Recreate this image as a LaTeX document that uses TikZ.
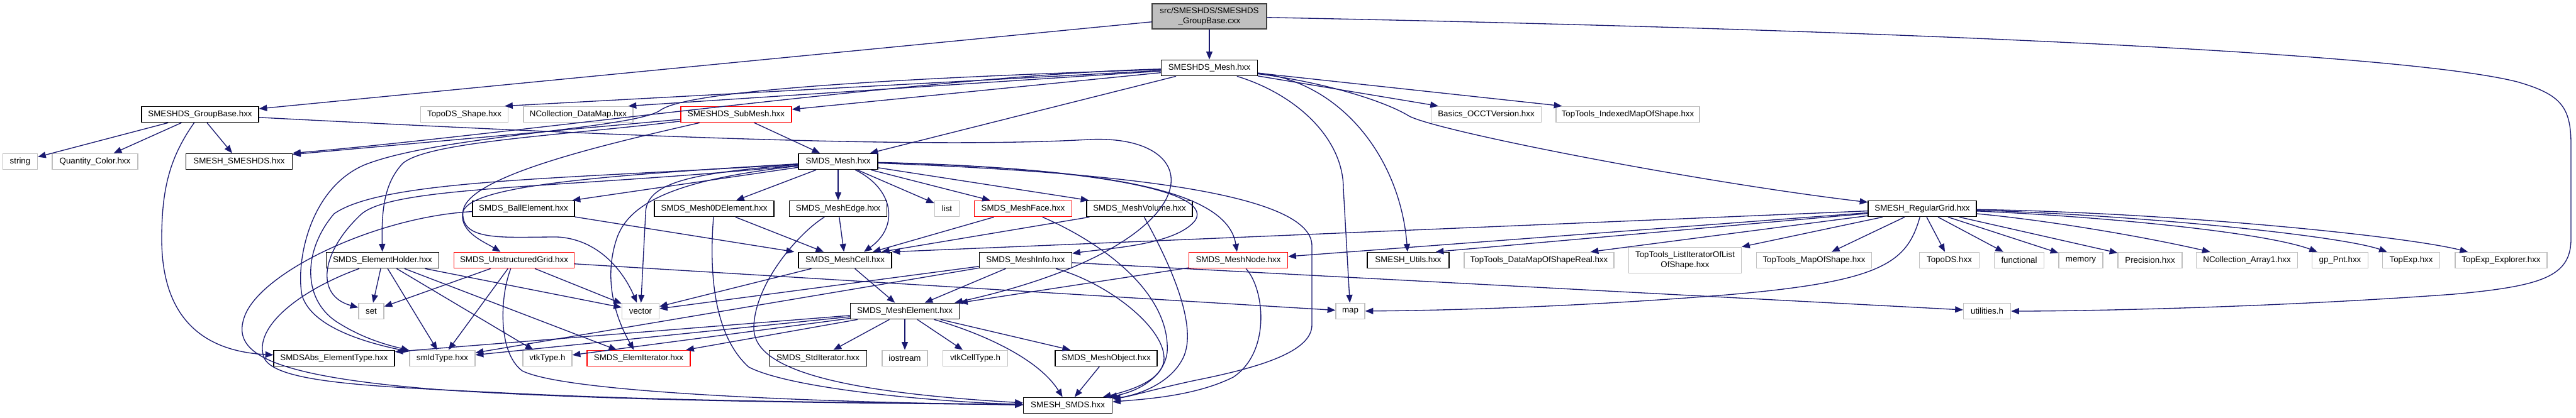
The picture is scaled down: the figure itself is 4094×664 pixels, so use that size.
\documentclass[tikz,border=0pt]{standalone}
\usepackage{fontspec}
\setmainfont{Liberation Sans}
\usetikzlibrary{arrows.meta,calc}
\definecolor{edgeblue}{HTML}{191970}
\definecolor{grayb}{HTML}{BFBFBF}
\definecolor{rootborder}{HTML}{404040}
\tikzset{
  nb/.style={draw=black, fill=white, line width=1pt, inner sep=0pt, minimum height=19pt,
             font=\fontsize{10}{12}\selectfont, align=center, text=black},
  ng/.style={nb, draw=grayb},
  nr/.style={nb, draw=red},
  wd/.style={minimum width=#1*0.75pt},
  ed/.style={draw=edgeblue, line width=1pt, -{Triangle[length=9.5pt,width=7.5pt]}},
}
\begin{document}
\begin{tikzpicture}[x=0.75pt,y=-0.75pt]
\useasboundingbox (0,0) rectangle (4094,664);
% ---- nodes ----
\node[nb,wd=182,minimum height=30pt,fill=grayb,draw=rootborder] (root) at (1922,26) {src/SMESHDS/SMESHDS\\\_GroupBase.cxx};
\node[nb,wd=153] (smeshdsmesh) at (1922,108) {SMESHDS\_Mesh.hxx};
\node[nb,wd=186] (groupbase) at (318,182) {SMESHDS\_GroupBase.hxx};
\node[ng,wd=139] (topodsshape) at (738,182) {TopoDS\_Shape.hxx};
\node[ng,wd=174] (ncolldatamap) at (919,182) {NCollection\_DataMap.hxx};
\node[nr,wd=176] (submesh) at (1170,182) {SMESHDS\_SubMesh.hxx};
\node[ng,wd=175] (basics) at (2362,182) {Basics\_OCCTVersion.hxx};
\node[ng,wd=228] (toptoolsidx) at (2587,182) {TopTools\_IndexedMapOfShape.hxx};
\node[ng,wd=55] (string) at (32,257) {string};
\node[ng,wd=136] (quantity) at (151,257) {Quantity\_Color.hxx};
\node[nb,wd=169] (smeshsmeshds) at (380,257) {SMESH\_SMESHDS.hxx};
\node[nb,wd=126] (smdsmesh) at (1332,257) {SMDS\_Mesh.hxx};
\node[nb,wd=162] (ball) at (832,332) {SMDS\_BallElement.hxx};
\node[nb,wd=190] (mesh0d) at (1135,332) {SMDS\_Mesh0DElement.hxx};
\node[nb,wd=155] (meshedge) at (1332,332) {SMDS\_MeshEdge.hxx};
\node[ng,wd=39] (list) at (1505,332) {list};
\node[nr,wd=155] (meshface) at (1626,332) {SMDS\_MeshFace.hxx};
\node[nb,wd=168] (meshvolume) at (1811,332) {SMDS\_MeshVolume.hxx};
\node[nb,wd=172] (regulargrid) at (3055,332) {SMESH\_RegularGrid.hxx};
\node[nb,wd=179] (elemholder) at (608,414) {SMDS\_ElementHolder.hxx};
\node[nr,wd=191] (ugrid) at (817,414) {SMDS\_UnstructuredGrid.hxx};
\node[nb,wd=148] (meshcell) at (1343,414) {SMDS\_MeshCell.hxx};
\node[nb,wd=147] (meshinfo) at (1630,414) {SMDS\_MeshInfo.hxx};
\node[nr,wd=157] (meshnode) at (1968,414) {SMDS\_MeshNode.hxx};
\node[nb,wd=130] (utils) at (2238,414) {SMESH\_Utils.hxx};
\node[ng,wd=238] (ttdatamap) at (2446,414) {TopTools\_DataMapOfShapeReal.hxx};
\node[ng,wd=179,minimum height=31pt] (ttlistit) at (2678,414) {TopTools\_ListIteratorOfList\\OfShape.hxx};
\node[ng,wd=183] (ttmap) at (2883,414) {TopTools\_MapOfShape.hxx};
\node[ng,wd=95] (topods) at (3098,414) {TopoDS.hxx};
\node[ng,wd=79] (functional) at (3209,414) {functional};
\node[ng,wd=70] (memory) at (3307,414) {memory};
\node[ng,wd=102] (precision) at (3417,414) {Precision.hxx};
\node[ng,wd=161] (ncarray1) at (3571,414) {NCollection\_Array1.hxx};
\node[ng,wd=89] (gppnt) at (3719,414) {gp\_Pnt.hxx};
\node[ng,wd=91] (topexp) at (3832,414) {TopExp.hxx};
\node[ng,wd=146] (topexpexp) at (3975,414) {TopExp\_Explorer.hxx};
\node[ng,wd=40] (set) at (590,495) {set};
\node[ng,wd=59] (vector) at (1018,495) {vector};
\node[nb,wd=173] (meshelement) at (1438,495) {SMDS\_MeshElement.hxx};
\node[ng,wd=46] (map) at (2146,495) {map};
\node[ng,wd=75] (utilities) at (3158,495) {utilities.h};
\node[nb,wd=192] (smdsabs) at (531,570) {SMDSAbs\_ElementType.hxx};
\node[ng,wd=104] (smidtype) at (703,570) {smIdType.hxx};
\node[ng,wd=78] (vtktype) at (870,570) {vtkType.h};
\node[nr,wd=164] (elemiter) at (1015,570) {SMDS\_ElemIterator.hxx};
\node[nb,wd=155] (stditer) at (1300,570) {SMDS\_StdIterator.hxx};
\node[ng,wd=72] (iostream) at (1438,570) {iostream};
\node[ng,wd=103] (vtkcelltype) at (1550,570) {vtkCellType.h};
\node[nb,wd=162] (meshobject) at (1758,570) {SMDS\_MeshObject.hxx};
\node[nb,wd=141] (smeshsmds) at (1697,645) {SMESH\_SMDS.hxx};
% ---- edges: root ----
\draw[ed] (root) -- (groupbase);
\draw[ed] (root) -- (smeshdsmesh);
\draw[ed] (root) .. controls (2900,45) and (3800,80) .. (4000,130) .. controls (4070,150) and (4086,170) .. (4086,230) -- (4086,380) .. controls (4086,440) and (4040,455) .. (3900,468) .. controls (3600,490) and (3300,495) .. (utilities);
% ---- GroupBase ----
\draw[ed] (groupbase) -- (string);
\draw[ed] (groupbase) -- (quantity);
\draw[ed] (groupbase) -- (smeshsmeshds);
\draw[ed] (groupbase) .. controls (270,250) and (257,300) .. (257,380) .. controls (257,530) and (350,560) .. (smdsabs);
\draw[ed] (groupbase) .. controls (900,212) and (1450,238) .. (1730,222) .. controls (1930,212) and (1930,390) .. ($(meshelement.north east)+(-8,0)$);
% ---- SMESHDS_Mesh ----
\draw[ed] (smeshdsmesh) -- ($(topodsshape.north east)+(-6,0)$);
\draw[ed] (smeshdsmesh) -- ($(ncolldatamap.north east)+(-8,0)$);
\draw[ed] (smeshdsmesh) -- ($(submesh.east)+(0,-8)$);
\draw[ed] (smeshdsmesh) .. controls (1500,118) and (800,215) .. (smeshsmeshds.north east);
\draw[ed] (smeshdsmesh) -- ($(smdsmesh.north east)+(-13,0)$);
\draw[ed] (smeshdsmesh) -- ($(basics.north west)+(12,0)$);
\draw[ed] (smeshdsmesh) -- ($(toptoolsidx.north west)+(10,0)$);
\draw[ed] (smeshdsmesh) .. controls (2100,130) and (2200,160) .. (2240,185) .. controls (2290,210) and (2700,290) .. (regulargrid);
\draw[ed] (smeshdsmesh) .. controls (2130,130) and (2225,250) .. (utils);
\draw[ed] (smeshdsmesh) .. controls (2060,150) and (2135,220) .. (2135,300) -- (map);
\draw[ed] (smeshdsmesh) .. controls (1500,122) and (1100,140) .. (1050,175) .. controls (1010,205) and (700,215) .. (580,262) .. controls (490,300) and (470,420) .. (480,470) .. controls (495,520) and (580,545) .. (smidtype);
% ---- SubMesh ----
\draw[ed] (submesh) -- (smdsmesh);
\draw[ed] (submesh) -- ($(smeshsmeshds.north east)+(0,2)$);
\draw[ed] (submesh) .. controls (900,215) and (680,225) .. (640,260) .. controls (612,290) and (606,330) .. (elemholder);
\draw[ed] (submesh) .. controls (960,230) and (745,280) .. (736,335) .. controls (730,385) and (800,377) .. (885,377) .. controls (950,380) and (990,430) .. (vector);
% ---- SMDS_Mesh ----
\draw[ed] (smdsmesh) -- ($(ball.north east)+(-4,0)$);
\draw[ed] (smdsmesh) -- (mesh0d);
\draw[ed] (smdsmesh) -- (meshedge);
\draw[ed] (smdsmesh) -- (list);
\draw[ed] (smdsmesh) -- (meshface);
\draw[ed] (smdsmesh) -- ($(meshvolume.north west)+(4,0)$);
\draw[ed] (smdsmesh) .. controls (1420,300) and (1430,360) .. ($(meshcell.north)+(30,0)$);
\draw[ed] (smdsmesh) .. controls (1100,275) and (1026,290) .. (1026,340) -- (vector);
\draw[ed] (smdsmesh) .. controls (1080,285) and (1000,320) .. (980,380) .. controls (960,440) and (975,500) .. (elemiter);
\draw[ed] (smdsmesh) .. controls (900,282) and (740,300) .. (735,340) .. controls (732,370) and (770,385) .. (ugrid);
\draw[ed] (smdsmesh) .. controls (900,285) and (610,285) .. (531,340) .. controls (480,400) and (480,480) .. (540,515) .. controls (580,540) and (620,550) .. (smidtype);
\draw[ed] (smdsmesh) .. controls (900,300) and (630,295) .. (575,340) .. controls (510,400) and (500,470) .. (set);
\draw[ed] (smdsmesh) .. controls (1700,265) and (1930,300) .. (1900,350) .. controls (1870,390) and (1760,395) .. (meshinfo);
\draw[ed] (smdsmesh) .. controls (1750,268) and (1950,300) .. (meshnode);
\draw[ed] (smdsmesh) .. controls (1800,275) and (2085,310) .. (2085,391) -- (2085,517) .. controls (2085,560) and (2000,585) .. (1900,605) .. controls (1830,620) and (1800,630) .. (smeshsmds);
% ---- element headers ----
\draw[ed] (ball) -- ($(meshcell.north west)+(-6,0)$);
\draw[ed] (ball) .. controls (600,345) and (420,430) .. (390,500) .. controls (365,560) and (420,598) .. (700,620) .. controls (1000,640) and (1400,641) .. (smeshsmds);
\draw[ed] (mesh0d) -- (meshcell);
\draw[ed] (mesh0d) .. controls (1128,420) and (1130,530) .. (1190,584) .. controls (1260,620) and (1500,640) .. (smeshsmds);
\draw[ed] (meshedge) -- (meshcell);
\draw[ed] (meshedge) .. controls (1270,370) and (1200,450) .. (1198,520) .. controls (1196,580) and (1300,622) .. (smeshsmds);
\draw[ed] (meshface) -- ($(meshcell.north)+(44,0)$);
\draw[ed] (meshface) .. controls (1760,390) and (1860,470) .. (1855,560) .. controls (1850,600) and (1810,622) .. (smeshsmds);
\draw[ed] (meshvolume) -- ($(meshcell.north)+(58,0)$);
\draw[ed] (meshvolume) .. controls (1860,420) and (1905,520) .. (1880,570) .. controls (1860,610) and (1810,628) .. (smeshsmds);
% ---- UnstructuredGrid ----
\draw[ed] (ugrid) -- (set);
\draw[ed] (ugrid) -- (smidtype);
\draw[ed] (ugrid) .. controls (795,470) and (790,560) .. (830,590) .. controls (900,625) and (1300,640) .. (smeshsmds);
\draw[ed] (ugrid) -- (vector);
\draw[ed] (ugrid) -- (map);
% ---- ElementHolder ----
\draw[ed] (elemholder) -- (set);
\draw[ed] (elemholder) -- (smidtype);
\draw[ed] (elemholder) -- (vtktype);
\draw[ed] (elemholder) -- (elemiter);
\draw[ed] (elemholder) -- (vector);
\draw[ed] (elemholder) .. controls (480,460) and (400,520) .. (420,570) .. controls (440,610) and (600,615) .. (800,625) .. controls (1100,640) and (1400,640) .. (smeshsmds);
% ---- MeshCell / MeshInfo / MeshNode ----
\draw[ed] (meshcell) -- (meshelement);
\draw[ed] (meshcell) -- (vector);
\draw[ed] (meshinfo) -- (meshelement);
\draw[ed] (meshinfo) .. controls (1760,450) and (1850,520) .. (1850,570) .. controls (1850,600) and (1810,618) .. (smeshsmds);
\draw[ed] (meshinfo) -- (utilities);
\draw[ed] (meshinfo) -- (vector);
\draw[ed] (meshinfo) -- (smidtype);
\draw[ed] (meshnode) -- (meshelement);
\draw[ed] (meshnode) .. controls (2010,460) and (2020,560) .. (1960,600) .. controls (1900,630) and (1820,635) .. (smeshsmds);
% ---- MeshElement ----
\draw[ed] (meshelement) -- (smidtype);
\draw[ed] (meshelement) -- ($(smdsabs.north east)+(0,3)$);
\draw[ed] (meshelement) -- (vtktype);
\draw[ed] (meshelement) -- (elemiter);
\draw[ed] (meshelement) -- (stditer);
\draw[ed] (meshelement) -- (iostream);
\draw[ed] (meshelement) -- (vtkcelltype);
\draw[ed] (meshelement) -- (meshobject);
\draw[ed] (meshelement) .. controls (1560,530) and (1650,570) .. (smeshsmds);
\draw[ed] (meshobject) -- (smeshsmds);
% ---- RegularGrid ----
\draw[ed] (regulargrid) -- (meshcell.north east);
\draw[ed] (regulargrid) -- (meshnode);
\draw[ed] (regulargrid) -- ($(utils.north east)+(-22,0)$);
\draw[ed] (regulargrid) -- ($(ttdatamap.north east)+(-38,0)$);
\draw[ed] (regulargrid) -- (ttlistit.north east);
\draw[ed] (regulargrid) -- (ttmap);
\draw[ed] (regulargrid) -- (topods);
\draw[ed] (regulargrid) -- (functional);
\draw[ed] (regulargrid) -- (memory);
\draw[ed] (regulargrid) -- (precision);
\draw[ed] (regulargrid) .. controls (3250,350) and (3400,375) .. (ncarray1);
\draw[ed] (regulargrid) .. controls (3350,345) and (3600,370) .. (gppnt);
\draw[ed] (regulargrid) .. controls (3400,342) and (3720,375) .. (topexp);
\draw[ed] (regulargrid) .. controls (3450,338) and (3820,375) .. (topexpexp);
\draw[ed] (regulargrid) .. controls (3030,420) and (2990,450) .. (2720,471) .. controls (2500,488) and (2300,494) .. (map);
\end{tikzpicture}
\end{document}
